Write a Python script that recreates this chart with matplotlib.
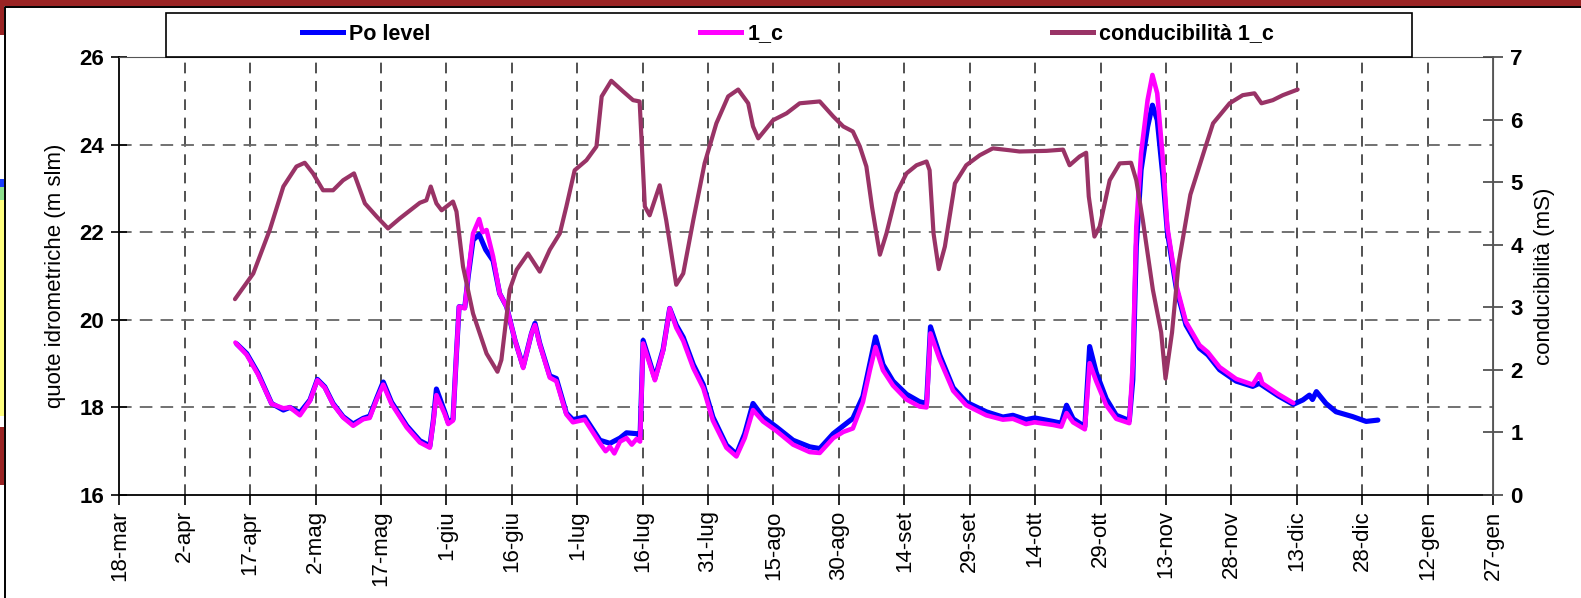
import matplotlib
matplotlib.use("Agg")
import matplotlib.pyplot as plt
from matplotlib.patches import Rectangle
from matplotlib.lines import Line2D

plt.rcParams["font.family"] = ["Liberation Sans", "DejaVu Sans"]

# x values are days counted from 18-mar
date_labels = ["18-mar", "2-apr", "17-apr", "2-mag", "17-mag", "1-giu", "16-giu",
               "1-lug", "16-lug", "31-lug", "15-ago", "30-ago", "14-set", "29-set",
               "14-ott", "29-ott", "13-nov", "28-nov", "13-dic", "28-dic", "12-gen",
               "27-gen"]

# Po level (m slm)
po_day = [26.9, 29.2, 31.8, 34.9, 37.6, 39.1, 41.4, 43.7, 45.4, 47.1, 49.0, 51.3,
          53.6, 55.9, 57.4, 59.0, 60.5, 62.4, 65.9, 68.9, 71.2, 72.0, 72.7, 74.6,
          75.4, 76.5, 77.3, 77.9, 79.2, 80.0, 81.1, 82.5, 84.0, 85.7, 87.2, 88.8,
          90.7, 92.6, 94.5, 95.3, 96.4, 98.7, 100.2, 102.5, 104.0, 106.7, 110.2,
          112.5, 114.8, 116.3, 118.6, 119.4, 120.1, 122.8, 124.7, 126.2, 127.7,
          129.3, 131.6, 133.9, 136.1, 139.2, 141.5, 143.4, 145.3, 147.6, 150.7,
          154.5, 158.3, 160.6, 163.7, 166.0, 168.2, 170.5, 172.1, 173.4, 175.1,
          177.4, 180.5, 183.5, 185.1, 186.0, 188.1, 191.2, 194.2, 198.8, 202.6,
          204.9, 207.9, 209.9, 214.1, 216.0, 217.2, 218.7, 221.4, 222.5, 224.0,
          226.3, 228.6, 231.6, 232.4, 233.2, 234.3, 235.8, 236.9, 238.0, 239.3,
          240.3, 242.4, 244.6, 247.7, 249.6, 252.3, 256.1, 259.9, 261.4, 265.8,
          269.2, 271.4, 272.9, 273.6, 274.5, 276.7, 279.0, 282.8, 285.9, 288.6]
po_val = [19.45, 19.23, 18.78, 18.09, 17.94, 18.00, 17.88, 18.17, 18.64, 18.47, 18.09,
          17.79, 17.62, 17.75, 17.80, 18.21, 18.58, 18.12, 17.58, 17.24, 17.12, 17.71,
          18.42, 17.90, 17.66, 17.73, 19.24, 20.30, 20.28, 21.00, 21.82, 21.95, 21.60,
          21.35, 20.60, 20.30, 19.54, 18.93, 19.69, 19.92, 19.46, 18.72, 18.66, 17.87,
          17.72, 17.78, 17.25, 17.18, 17.30, 17.42, 17.40, 17.35, 19.53, 18.66, 19.33,
          20.26, 19.88, 19.60, 18.98, 18.52, 17.78, 17.14, 16.93, 17.40, 18.09, 17.78,
          17.55, 17.25, 17.10, 17.06, 17.40, 17.58, 17.75, 18.25, 19.00, 19.61, 18.98,
          18.60, 18.30, 18.13, 18.09, 19.84, 19.20, 18.45, 18.12, 17.90, 17.78, 17.82,
          17.72, 17.76, 17.68, 17.64, 18.05, 17.74, 17.56, 19.39, 18.80, 18.20, 17.82,
          17.70, 18.63, 21.67, 23.42, 24.41, 24.90, 24.56, 23.27, 22.02, 20.70, 19.88,
          19.35, 19.20, 18.86, 18.60, 18.48, 18.55, 18.26, 18.07, 18.17, 18.28, 18.18,
          18.36, 18.09, 17.90, 17.79, 17.68, 17.71]

# 1_c (m slm)
c1_day = [26.6, 29.2, 31.8, 34.9, 37.6, 39.1, 41.4, 43.7, 45.4, 47.1, 49.0, 51.3,
          53.6, 55.9, 57.4, 59.0, 60.5, 62.4, 65.9, 68.9, 71.2, 72.0, 72.7, 74.6,
          75.4, 76.5, 77.3, 77.9, 79.2, 80.0, 81.1, 82.5, 83.3, 84.2, 85.7, 87.2,
          88.8, 90.7, 92.6, 94.5, 95.3, 96.4, 98.7, 100.2, 102.5, 104.0, 106.7,
          110.2, 111.5, 112.5, 113.5, 114.8, 116.3, 117.5, 118.6, 119.4, 120.1,
          122.8, 124.7, 126.2, 127.7, 129.3, 131.6, 133.9, 136.1, 139.2, 141.5,
          143.4, 145.3, 147.6, 150.7, 154.5, 158.3, 160.6, 163.7, 166.0, 168.2,
          170.5, 172.1, 173.4, 175.1, 177.4, 180.5, 183.5, 185.1, 186.0, 188.1,
          191.2, 194.2, 198.8, 202.6, 204.9, 207.9, 209.9, 214.1, 216.0, 217.2,
          218.7, 221.4, 222.5, 224.0, 226.3, 228.6, 231.6, 232.4, 233.2, 234.3,
          235.8, 236.9, 238.0, 239.3, 240.3, 242.4, 244.6, 247.7, 249.6, 252.3,
          256.1, 259.9, 261.4, 262.1, 265.8, 269.2]
c1_val = [19.48, 19.20, 18.75, 18.08, 17.98, 18.00, 17.82, 18.15, 18.62, 18.45, 18.07,
          17.77, 17.58, 17.73, 17.76, 18.18, 18.52, 18.08, 17.54, 17.20, 17.08, 17.68,
          18.28, 17.85, 17.62, 17.70, 19.24, 20.30, 20.26, 21.06, 21.97, 22.30, 22.00,
          22.05, 21.44, 20.60, 20.30, 19.54, 18.90, 19.69, 19.88, 19.44, 18.68, 18.60,
          17.84, 17.66, 17.72, 17.18, 17.00, 17.10, 16.95, 17.22, 17.30, 17.15, 17.28,
          17.22, 19.46, 18.62, 19.30, 20.26, 19.82, 19.52, 18.90, 18.44, 17.70, 17.08,
          16.88, 17.30, 17.94, 17.68, 17.46, 17.15, 16.98, 16.96, 17.30, 17.44, 17.52,
          18.12, 18.85, 19.38, 18.85, 18.50, 18.18, 18.02, 18.00, 19.69, 19.10, 18.38,
          18.05, 17.82, 17.72, 17.74, 17.62, 17.66, 17.60, 17.56, 17.87, 17.66, 17.50,
          19.01, 18.60, 18.05, 17.74, 17.64, 19.00, 22.13, 23.80, 25.02, 25.59, 25.17,
          23.65, 22.13, 20.78, 19.95, 19.42, 19.26, 18.92, 18.65, 18.52, 18.76, 18.55,
          18.30, 18.10]

# conducibilita 1_c (mS)
cond_day = [26.5, 30.7, 34.5, 37.6, 40.6, 42.5, 44.4, 46.7, 49.0, 51.3, 53.8, 56.3,
            59.0, 61.6, 64.3, 68.9, 70.4, 71.4, 72.7, 73.9, 76.5, 77.3, 78.8, 81.1,
            84.2, 86.7, 87.6, 89.5, 91.1, 93.7, 96.4, 98.7, 101.0, 102.5, 104.4,
            107.1, 109.4, 110.6, 112.8, 115.5, 117.8, 119.3, 120.5, 121.6, 123.9,
            125.4, 127.7, 129.3, 131.6, 134.2, 136.9, 139.6, 141.9, 144.2, 145.3,
            146.5, 149.9, 153.0, 156.0, 160.6, 163.7, 166.0, 168.2, 169.8, 171.3,
            172.6, 174.4, 175.9, 178.2, 180.5, 182.8, 185.1, 185.8, 186.7, 187.9,
            189.3, 191.6, 194.2, 197.3, 200.3, 204.1, 206.4, 212.6, 216.4, 217.9,
            220.2, 221.7, 222.3, 223.6, 224.8, 227.1, 229.4, 232.0, 233.2, 234.7,
            237.0, 238.9, 239.9, 241.4, 242.9, 245.6, 249.0, 250.8, 254.6, 257.6,
            260.3, 261.9, 264.5, 266.8, 270.2]
cond_val = [3.13, 3.54, 4.24, 4.93, 5.25, 5.31, 5.14, 4.87, 4.87, 5.03, 5.14, 4.66,
            4.45, 4.26, 4.42, 4.67, 4.71, 4.93, 4.66, 4.55, 4.69, 4.53, 3.65, 2.90,
            2.26, 1.97, 2.16, 3.28, 3.60, 3.86, 3.57, 3.92, 4.18, 4.61, 5.19, 5.35,
            5.57, 6.37, 6.62, 6.45, 6.31, 6.29, 4.61, 4.47, 4.95, 4.39, 3.36, 3.54,
            4.39, 5.30, 5.94, 6.37, 6.48, 6.26, 5.89, 5.70, 5.99, 6.10, 6.26, 6.29,
            6.05, 5.89, 5.81, 5.57, 5.25, 4.60, 3.84, 4.18, 4.82, 5.14, 5.27, 5.33,
            5.19, 4.18, 3.61, 3.97, 4.98, 5.27, 5.43, 5.54, 5.51, 5.49, 5.50, 5.52,
            5.27, 5.41, 5.47, 4.77, 4.13, 4.29, 5.03, 5.30, 5.31, 5.03, 4.39, 3.28,
            2.60, 1.86, 2.60, 3.70, 4.80, 5.55, 5.94, 6.26, 6.39, 6.42, 6.26, 6.31,
            6.39, 6.48]

W, H = 1581, 598
fig = plt.figure(figsize=(W / 100, H / 100), dpi=100)
ax = fig.add_axes([119.4 / W, 1 - 495 / H, (1493 - 119.4) / W, (495 - 57) / H])
ax2 = ax.twinx()

ax.plot(po_day, po_val, color="#0000ff", lw=3.7, solid_joinstyle="round",
        solid_capstyle="round")
ax.plot(c1_day, c1_val, color="#ff00ff", lw=3.3, solid_joinstyle="round",
        solid_capstyle="round")
ax2.plot(cond_day, cond_val, color="#993366", lw=3.0, solid_joinstyle="round",
         solid_capstyle="round")

ax.set_xlim(0, 315)
ax.set_ylim(16, 26)
ax2.set_ylim(0, 7)
ax.set_xticks(range(0, 316, 15))
ax.set_xticklabels(date_labels, rotation=90, fontsize=16)
ax.set_yticks(range(16, 27, 2))
ax2.set_yticks(range(0, 8))

for lab in ax.get_yticklabels() + ax2.get_yticklabels():
    lab.set_fontweight("bold")
    lab.set_fontsize(16)

ax.tick_params(axis="x", direction="out", length=7, width=1.2, pad=4)
ax.tick_params(axis="y", direction="inout", length=12, width=1.2, pad=5)
ax2.tick_params(axis="y", direction="inout", length=15, width=1.2, pad=5, color="#444")

# grid
for d in range(15, 315, 15):
    ax.axvline(d, color="#222222", lw=1.1, dashes=(7, 5), zorder=0)
for v in range(18, 26, 2):
    ax.axhline(v, color="#666666", lw=1.3, dashes=(7, 4.5), zorder=0)

ax.spines["left"].set_color("black")
ax.spines["bottom"].set_color("black")
ax.spines["left"].set_linewidth(1.3)
ax.spines["bottom"].set_linewidth(1.3)
for s in ["top", "right"]:
    ax.spines[s].set_color("#555555")
ax2.spines["right"].set_color("#555555")
ax2.spines["right"].set_linewidth(1.3)
ax2.spines["top"].set_visible(False)
ax2.spines["left"].set_visible(False)
ax2.spines["bottom"].set_visible(False)

ax.set_ylabel("quote idrometriche (m slm)", fontsize=16, va="center")
ax.yaxis.set_label_coords((55 - 119.4) / (1493 - 119.4), 0.5)
ax2.set_ylabel("conducibilità (mS)", fontsize=16, va="center", rotation=90)
ax2.yaxis.set_label_coords((1545 - 119.4) / (1493 - 119.4), 0.5)

# legend box on top of the plot
fig.add_artist(Rectangle((166 / W, 1 - 57 / H), (1412 - 166) / W, 44 / H,
                         transform=fig.transFigure, facecolor="white",
                         edgecolor="black", lw=1.2))
entries = [("Po level", "#0000ff", 302), ("1_c", "#ff00ff", 700),
           ("conducibilità 1_c", "#993366", 1052)]
for name, col, xpix in entries:
    fig.legend(handles=[Line2D([], [], color=col, lw=3.6)], labels=[name],
               loc="center left", bbox_to_anchor=(xpix / W, 1 - 34 / H),
               frameon=False, borderpad=0, borderaxespad=0, handlelength=1.9,
               handletextpad=0.3, prop={"weight": "bold", "size": 15.5})

# window frame remnants around the chart
fig.add_artist(Rectangle((0, 1 - 6 / H), 1, 6 / H, transform=fig.transFigure,
                         facecolor="#9a2424", edgecolor="none"))
fig.add_artist(Line2D([4.5 / W, 4.5 / W, 1], [0, 1 - 7 / H, 1 - 7 / H],
                      transform=fig.transFigure, color="black", lw=1.4))
strips = [(0, 35, "#9a2424"), (179, 187, "#1a3cff"), (187, 200, "#8ee08e"),
          (200, 416, "#ffff80"), (427, 485, "#9a2424")]
for y0, y1, col in strips:
    fig.add_artist(Rectangle((0, 1 - y1 / H), 4 / W, (y1 - y0) / H,
                             transform=fig.transFigure, facecolor=col,
                             edgecolor="none"))

fig.savefig("out.png", dpi=100)
